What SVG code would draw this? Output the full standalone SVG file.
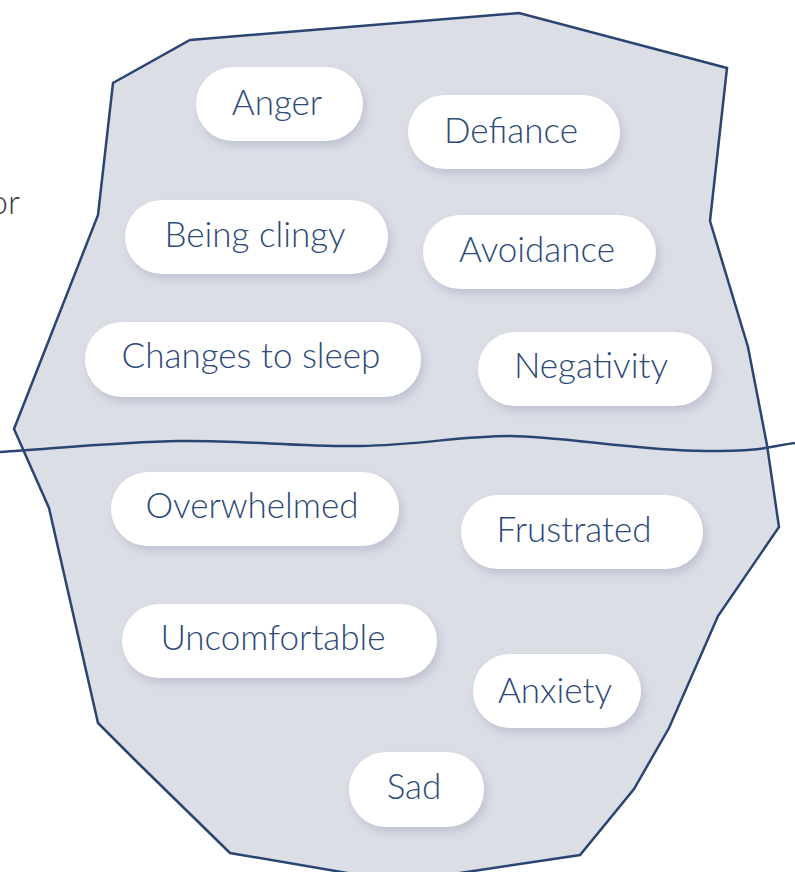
<svg xmlns="http://www.w3.org/2000/svg" width="795" height="872" viewBox="0 0 795 872">
<style>
.pill{fill:#ffffff;filter:url(#sh)}
.lbl{font-family:Lato,"Open Sans","Liberation Sans",sans-serif;font-weight:300;font-size:35px;fill:#2e4a7a;text-anchor:middle}
.ice{fill:#dcdee6;stroke:#2b4572;stroke-width:2.5;stroke-linejoin:miter}
.line{fill:none;stroke:#2b4572;stroke-width:2.5}
</style>
<defs>
<filter id="sh" x="-20%" y="-30%" width="140%" height="170%">
<feDropShadow dx="3" dy="5" stdDeviation="5" flood-color="#a5aac0" flood-opacity="0.55"/>
</filter>
</defs>
<rect width="795" height="872" fill="#ffffff"/>
<text x="20" y="214" font-family="Lato,'Open Sans','Liberation Sans',sans-serif" font-weight="300" font-size="34" fill="#3c3c3c" text-anchor="end">or</text>
<g id="iceberg">
<path class="ice" d="M190,40 L519,13 L727,68 L710,221 L748,347 L767,445 L779,527 L718,616 L669,728 L634,789 L580,855 L400,882 L230,853 L138,763 L98,723 L49,508 L14,429 L98,215 L113,83 Z"/>
</g>
<g id="connectors">
<path class="line" d="M0,452 C60,448 120,442 180,441 S300,447 360,446 S460,436 510,436 S640,451 705,451 S770,446 795,443"/>
</g>
<g id="anger"><rect class="pill" x="196" y="67" width="167" height="74" rx="37"/><text class="lbl" x="277" y="115">Anger</text></g>
<g id="defiance"><rect class="pill" x="408" y="95" width="212" height="74" rx="37"/><text class="lbl" x="511" y="143">Defiance</text></g>
<g id="being-clingy"><rect class="pill" x="125" y="200" width="263" height="74" rx="37"/><text class="lbl" x="255" y="247">Being clingy</text></g>
<g id="avoidance"><rect class="pill" x="423" y="215" width="233" height="74" rx="37"/><text class="lbl" x="537" y="262">Avoidance</text></g>
<g id="changes-to-sleep"><rect class="pill" x="85" y="322" width="336" height="75" rx="37"/><text class="lbl" x="251" y="368">Changes to sleep</text></g>
<g id="negativity"><rect class="pill" x="478" y="332" width="234" height="74" rx="37"/><text class="lbl" x="591" y="378">Negativity</text></g>
<g id="overwhelmed"><rect class="pill" x="111" y="472" width="288" height="74" rx="37"/><text class="lbl" x="252" y="518">Overwhelmed</text></g>
<g id="frustrated"><rect class="pill" x="461" y="495" width="242" height="74" rx="37"/><text class="lbl" x="574" y="542">Frustrated</text></g>
<g id="uncomfortable"><rect class="pill" x="122" y="604" width="315" height="74" rx="37"/><text class="lbl" x="273" y="650">Uncomfortable</text></g>
<g id="anxiety"><rect class="pill" x="473" y="654" width="168" height="74" rx="37"/><text class="lbl" x="555" y="703">Anxiety</text></g>
<g id="sad"><rect class="pill" x="349" y="752" width="135" height="75" rx="37"/><text class="lbl" x="414" y="799">Sad</text></g>
</svg>
